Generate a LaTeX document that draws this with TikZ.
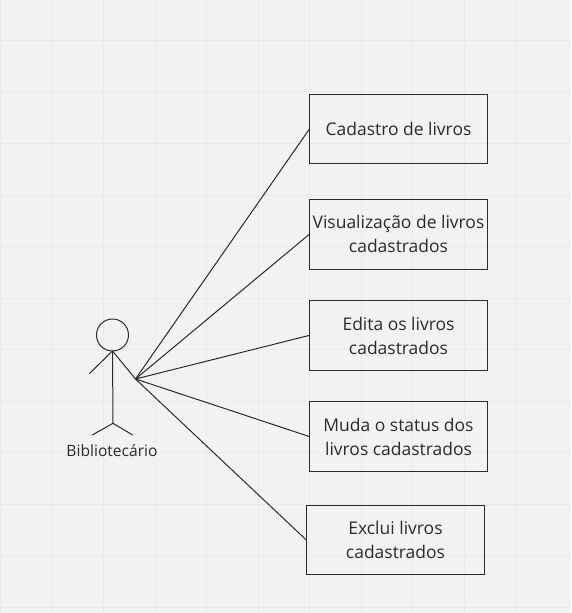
\documentclass[tikz,border=0pt]{standalone}
\usepackage{fontspec}
\setmainfont{Open Sans}
\usetikzlibrary{positioning}
\definecolor{paper}{HTML}{F2F2F2}
\definecolor{gridline}{HTML}{EAEAEA}
\definecolor{ink}{HTML}{2B2B2B}
\tikzset{
  gridrule/.style={draw=gridline,line width=0.75pt},
  usecase/.style={
    rectangle,
    draw=ink,
    line width=0.75pt,
    outer sep=0pt,
    text=ink,
    font=\fontsize{13.1pt}{18pt}\selectfont,
    align=center,
    minimum width=133.75pt,
    minimum height=52.25pt,
    inner sep=0pt,
    text depth=0pt,
    yshift=-0.1pt
  },
  stick/.style={draw=ink,line width=0.75pt},
  assoc/.style={draw=ink,line width=0.75pt}
}
\begin{document}
\begin{tikzpicture}[x=0.75pt,y=-0.75pt]
\fill[paper] (0,0) rectangle (571,613);
\useasboundingbox (0,0) rectangle (571,613);

% grid
\foreach \gx in {0.7,52.2,...,567}
  \draw[gridrule] (\gx,0) -- (\gx,613);
\foreach \gy in {40.5,92,...,610}
  \draw[gridrule] (0,\gy) -- (571,\gy);

% actor
\node[circle,stick,minimum size=24pt,inner sep=0pt,outer sep=0pt] (head) at (112.5,335) {};
\coordinate (armL) at (89.3,373.7);
\coordinate (hub) at (135.5,379);
\coordinate (hip) at (113,423.3);
\coordinate (legL) at (92.3,435);
\coordinate (legR) at (132.7,435);
\draw[stick] (head.south) -- (hip);
\draw[stick] (armL) -- (head.south) -- (hub);
\draw[stick] (legL) -- (hip) -- (legR);
\node[text=ink,font=\fontsize{11.7pt}{13pt}\selectfont] (actor) at (112,450.5) {Bibliotecário};

% use cases
\node[usecase] (box1) at (398.5,129) {Cadastro de livros};
\node[usecase,below=26.5pt of box1] (box2) {Visualização de livros\\cadastrados};
\node[usecase,below=23.5pt of box2] (box3) {Edita os livros\\cadastrados};
\node[usecase,below=23.5pt of box3] (box4) {Muda o status dos\\livros cadastrados};
\node[usecase,below=25.25pt of box4,xshift=-2.25pt] (box5) {Exclui livros\\cadastrados};

% associations
\foreach \b in {box1,box2,box3,box4,box5}
  \draw[assoc] (hub) -- (\b.west);

\end{tikzpicture}
\end{document}
